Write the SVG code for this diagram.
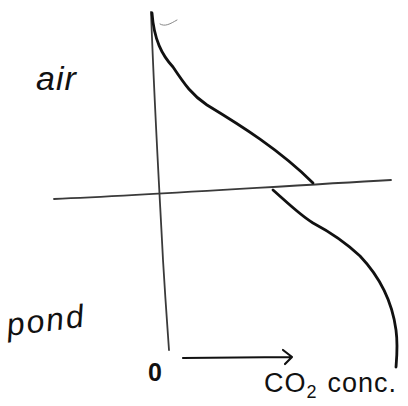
<svg xmlns="http://www.w3.org/2000/svg" width="408" height="406" viewBox="0 0 408 406">
<style>
.ln{fill:none;stroke:#111;stroke-linecap:round;stroke-linejoin:round}
.ax{stroke-width:1.8;stroke:#3a3a3a}
.cv{stroke-width:2.8}
.t{font-family:"Liberation Sans",Arial,sans-serif;fill:#111}
</style>
<rect width="408" height="406" fill="#fff"/>
<g id="axes">
<path class="ln ax" d="M151,12 C155,120 160,200 163,260 C166,310 168,335 169,350"/>
<path class="ln ax" d="M54,199 C150,195 250,188 391,180"/>
<path class="ln" style="stroke:#888;stroke-width:1" d="M160,24 C165,27 170,24 177,20"/>
</g>
<g id="connectors">
<path class="ln cv" d="M152,13 C154,40 162,55 173,67 C185,85 192,95 207,105 C240,125 280,150 313,183"/>
<path class="ln cv" d="M273,190 C290,205 300,215 313,223 C330,232 345,242 360,256 C378,275 392,300 396,330 C398,345 397,355 396,367"/>
<path class="ln" style="stroke-width:2.2" d="M183,358 L292,357 M283,350 L292,357 L285,364"/>
</g>
<g id="label-air"><text class="t" x="36" y="90" font-size="34" font-style="italic" letter-spacing="1">air</text></g>
<g id="label-pond"><text class="t" x="8" y="336" font-size="32" font-style="italic" letter-spacing="2" transform="rotate(-7 8 336)">pond</text></g>
<g id="label-zero"><text class="t" x="148" y="381" font-size="25" font-weight="bold">0</text></g>
<g id="label-co2"><text class="t" x="264" y="392" font-size="27" letter-spacing="1">CO<tspan font-size="18" dy="6">2</tspan><tspan dy="-6" dx="10">conc.</tspan></text></g>
</svg>
